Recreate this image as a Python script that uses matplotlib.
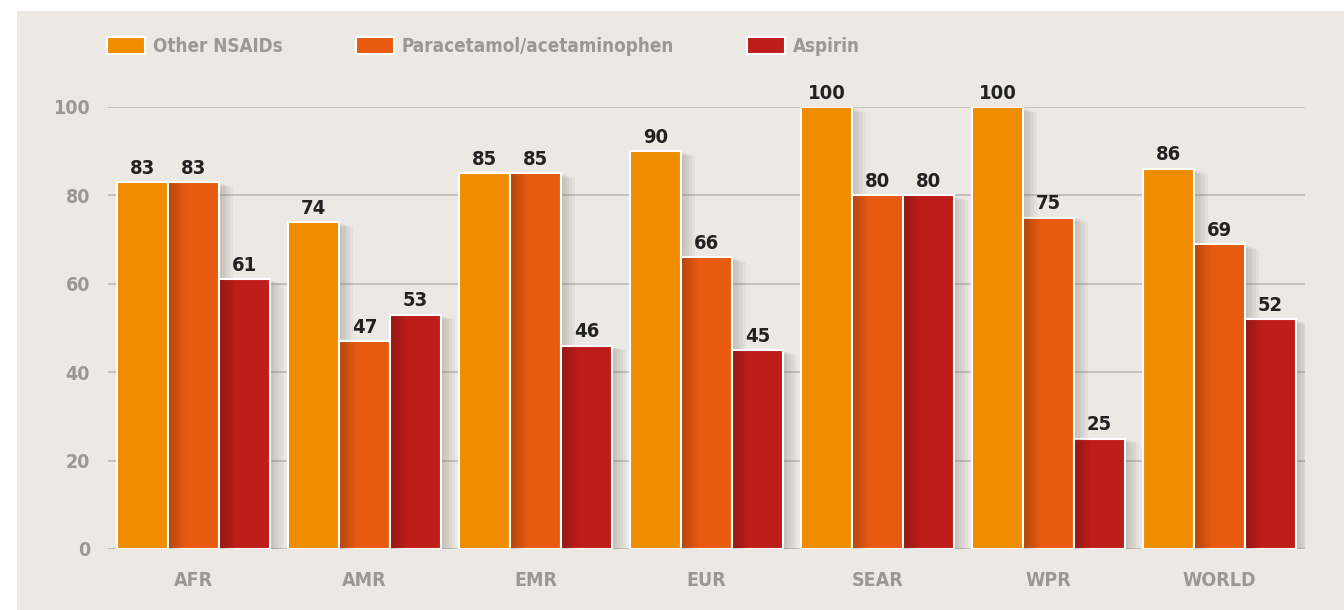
import numpy as np
import matplotlib.pyplot as plt
import matplotlib.patheffects as pe
from matplotlib.patches import Rectangle

regions = ["AFR", "AMR", "EMR", "EUR", "SEAR", "WPR", "WORLD"]
other_nsaids = [83, 74, 85, 90, 100, 100, 86]
paracetamol = [83, 47, 85, 66, 80, 75, 69]
aspirin = [61, 53, 46, 45, 80, 25, 52]
series_names = ["Other NSAIDs", "Paracetamol/acetaminophen", "Aspirin"]
colors = ["#F08C00", "#E85A10", "#BE1E1A"]

plt.rcParams['font.family'] = ['DejaVu Sans']
plt.rcParams['font.stretch'] = 'condensed'

bg = "#ECE9E5"
fig = plt.figure(figsize=(13.44, 6.10), dpi=100)
fig.patch.set_facecolor("white")
fig.patches.append(Rectangle((17/1344, 0), 1 - 17/1344, 1 - 11/610,
                             transform=fig.transFigure, facecolor=bg,
                             edgecolor="none", zorder=-10))

ax = fig.add_axes([108/1344, 61/610, (1305-108)/1344, (549-107)/610])
ax.set_facecolor("none")

x = np.arange(len(regions))
w = 0.298
# soft drop shadow built from a few stacked offsets
shadow = [pe.SimplePatchShadow(offset=(d, -d/3), shadow_rgbFace="#6f6a64", alpha=0.07)
          for d in (2, 4, 6, 8, 10)] + [pe.Normal()]

for i, (vals, col, name) in enumerate(zip([other_nsaids, paracetamol, aspirin],
                                           colors, series_names)):
    pos = x + (i - 1) * w
    bars = ax.bar(pos, vals, width=w, color=col, edgecolor="white",
                  linewidth=1.5, label=name, zorder=3)
    for b in bars:
        b.set_path_effects(shadow)
    # darker band on the left of the bar, where the neighbour casts its shade
    if i > 0:
        grad = np.linspace(0.22, 0, 50).reshape(1, -1)
        for p, v in zip(pos, vals):
            rgba = np.zeros((1, 50, 4))
            rgba[..., 3] = grad
            ax.imshow(rgba, extent=(p - w/2 + 0.005, p - w/2 + w*0.35, 0, v - 0.3),
                      aspect="auto", zorder=4, interpolation="bilinear")
    for p, v in zip(pos, vals):
        ax.text(p, v + 1.0, str(v), ha="center", va="bottom", fontsize=14.5,
                color="#222222", fontweight="bold", zorder=5, clip_on=False)

ax.set_xlim(-0.5, len(regions) - 0.5)
ax.set_ylim(0, 100)
ax.set_yticks([0, 20, 40, 60, 80, 100])
ax.set_xticks(x)
ax.set_xticklabels(regions)
ax.grid(axis="y", color="#BDB9B3", linewidth=1.2, zorder=0)
ax.set_axisbelow(True)
for s in ax.spines.values():
    s.set_visible(False)
ax.tick_params(axis="both", length=0, colors="#9B9894", labelsize=14)
ax.tick_params(axis="y", pad=13)
ax.tick_params(axis="x", pad=16)
for t in ax.get_xticklabels() + ax.get_yticklabels():
    t.set_fontweight("bold")

leg = fig.legend(loc="upper left", bbox_to_anchor=(90/1344, 1 - 20/610), ncol=3,
                 frameon=False, fontsize=13.5, handlelength=2.05, handleheight=1.0,
                 columnspacing=3.9, handletextpad=0.4)
for t in leg.get_texts():
    t.set_color("#9B9894")
    t.set_fontweight("bold")
for h in leg.legend_handles:
    h.set_path_effects([pe.Normal()])

fig.savefig("out.png", dpi=100, facecolor=fig.get_facecolor())
